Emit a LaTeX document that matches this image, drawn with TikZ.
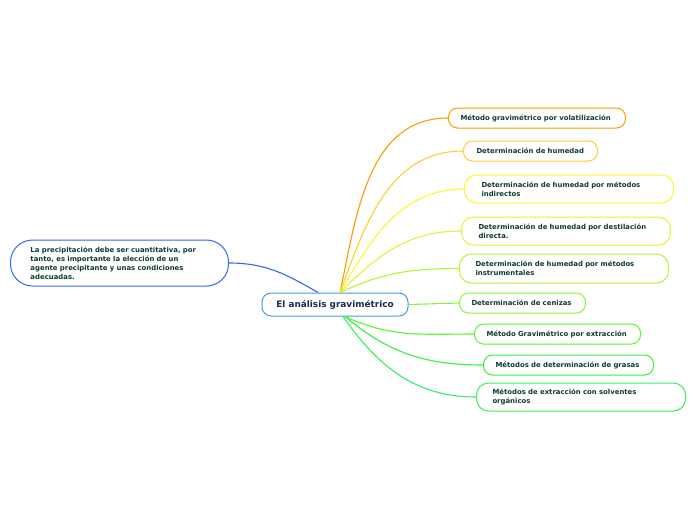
\documentclass[tikz,border=0pt]{standalone}
\usepackage{fontspec}
\setmainfont{DejaVu Sans}
\usepackage{tikz}
\usetikzlibrary{positioning}
\definecolor{textColor}{HTML}{0E3B33}
\definecolor{mainText}{HTML}{1B2A50}
\definecolor{mainColor}{HTML}{4A9BD8}
\definecolor{leftColor}{HTML}{3366F5}
\definecolor{colA}{HTML}{FF9A00}
\definecolor{colB}{HTML}{FFCC33}
\definecolor{colC}{HTML}{FFF530}
\definecolor{colD}{HTML}{DDF533}
\definecolor{colE}{HTML}{B5F533}
\definecolor{colF}{HTML}{8CF533}
\definecolor{colG}{HTML}{5AF533}
\definecolor{colH}{HTML}{33F03C}
\definecolor{colI}{HTML}{33F060}

\begin{document}
\begin{tikzpicture}[x=1pt,y=-1pt]

          \tikzstyle{mainNode} = [draw=mainColor, line width=1pt, rounded corners=9pt, fill=white, text=mainText, font=\fontsize{8.9}{10}\selectfont\bfseries, minimum width=146pt, minimum height=23pt, inner sep=0pt];
          \tikzstyle{subNode} = [draw, line width=1pt, rounded corners=9pt, fill=white, text=textColor, font=\fontsize{6.9}{9}\selectfont\bfseries, align=left, anchor=west, minimum height=20pt, inner ysep=0pt];
          \tikzstyle{branch} = [line width=1.1pt];

          \useasboundingbox (0,0) rectangle (696,520);

          \node[mainNode] (main) at (335,304.5) {El análisis gravimétrico};

          \node[subNode, draw=leftColor, rounded corners=22pt, inner xsep=20pt, text width=178pt, minimum height=46pt] (precip) at (10,263) {La precipitación debe ser cuantitativa, por\\tanto, es importante la elección de un\\agente precipitante y unas condiciones\\adecuadas.};

          \node[subNode, draw=colA, inner xsep=12pt, text width=153pt] (volat) at (448,118) {Método gravimétrico por volatilización};
          \node[subNode, draw=colB, inner xsep=13pt, text width=108pt] (humedad) at (463,151) {Determinación de humedad};
          \node[subNode, draw=colC, rounded corners=12pt, inner xsep=17pt, text width=175pt, minimum height=28pt] (indirect) at (464,189) {Determinación de humedad por métodos\\indirectos};
          \node[subNode, draw=colD, rounded corners=12pt, inner xsep=17pt, text width=175pt, minimum height=28pt] (destil) at (461,231) {Determinación de humedad por destilación\\directa.};
          \node[subNode, draw=colE, rounded corners=12pt, inner xsep=16pt, text width=177pt, minimum height=29pt] (instrum) at (459,268.5) {Determinación de humedad por métodos\\instrumentales};
          \node[subNode, draw=colF, inner xsep=12pt, text width=102pt] (cenizas) at (459,303) {Determinación de cenizas};
          \node[subNode, draw=colG, inner xsep=12pt, text width=142pt] (extrac) at (474,334) {Método Gravimétrico por extracción};
          \node[subNode, draw=colH, inner xsep=12pt, text width=146pt] (grasas) at (483,365) {Métodos de determinación de grasas};
          \node[subNode, draw=colI, rounded corners=12pt, inner xsep=16pt, text width=177pt, minimum height=28pt] (solvent) at (476,397) {Métodos de extracción con solventes\\orgánicos};

          \draw[branch, leftColor] ([xshift=-17pt]main.north) to[out=150, in=0] (precip.east);
          \draw[branch, colA] ([xshift=5pt]main.north) to[out=78, in=180] (volat.west);
          \draw[branch, colB] ([xshift=5pt]main.north) to[out=70, in=180] (humedad.west);
          \draw[branch, colC] ([xshift=5pt]main.north) to[out=60, in=180] (indirect.west);
          \draw[branch, colD] ([xshift=5pt]main.north) to[out=45, in=180] (destil.west);
          \draw[branch, colE] ([xshift=5pt]main.north) to[out=25, in=180] (instrum.west);
          \draw[branch, colF] (main.east) -- (cenizas.west);
          \draw[branch, colG] ([xshift=10pt]main.south) to[out=-25, in=180] (extrac.west);
          \draw[branch, colH] ([xshift=10pt]main.south) to[out=-40, in=180] (grasas.west);
          \draw[branch, colI] ([xshift=8pt]main.south) to[out=-55, in=180] (solvent.west);
        \end{tikzpicture}
\end{document}
